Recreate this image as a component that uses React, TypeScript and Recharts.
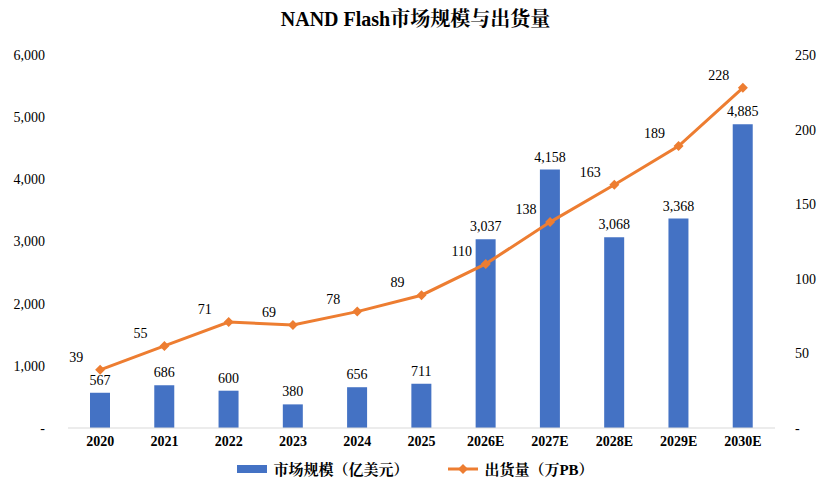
import { ComposedChart, Bar, Line, XAxis, YAxis, Legend, LabelList } from "recharts"

const years = ["2020", "2021", "2022", "2023", "2024", "2025", "2026E", "2027E", "2028E", "2029E", "2030E"]
const marketSize = [567, 686, 600, 380, 656, 711, 3037, 4158, 3068, 3368, 4885]
const shipments = [39, 55, 71, 69, 78, 89, 110, 138, 163, 189, 228]
const leftTicks = [0, 1000, 2000, 3000, 4000, 5000, 6000]
const rightTicks = [0, 50, 100, 150, 200, 250]

const data = years.map((year, i) => ({ year, market: marketSize[i], ship: shipments[i] }))

const font = "'Liberation Serif', 'Times New Roman', 'Noto Serif CJK SC', 'Noto Sans CJK SC', serif"
const fmt = (v: number) => (v === 0 ? "-" : v.toLocaleString("en-US"))

const ShipLabel = (props: any) => {
  const { x, y, value } = props
  return (
    <text x={x - 24} y={y - 8} textAnchor="middle" fontSize={14} fill="#000" fontFamily={font}>
      {value}
    </text>
  )
}

const LegendBox = () => (
  <div style={{ display: "flex", justifyContent: "center", gap: 40, fontSize: 15, fontWeight: "bold", fontFamily: font, color: "#000" }}>
    <span style={{ display: "flex", alignItems: "center", gap: 6 }}>
      <span style={{ display: "inline-block", width: 30, height: 8, background: "#4472C4" }} />
      市场规模（亿美元）
    </span>
    <span style={{ display: "flex", alignItems: "center", gap: 6 }}>
      <svg width={30} height={12}>
        <line x1={0} y1={6} x2={30} y2={6} stroke="#ED7D31" strokeWidth={3} />
        <path d="M15,1L20,6L15,11L10,6Z" fill="#ED7D31" />
      </svg>
      出货量（万PB）
    </span>
  </div>
)

export default function App() {
  return (
    <div style={{ position: "absolute", left: 0, top: 0, width: 831, height: 492, background: "#fff", fontFamily: font }}>
      <div style={{ position: "absolute", top: 3, width: 831, textAlign: "center", fontWeight: "bold", fontSize: 20 }}>
        NAND Flash市场规模与出货量
      </div>
      <ComposedChart width={831} height={492} data={data} margin={{ top: 55, right: 0, left: 0, bottom: 4 }}>
        <XAxis
          dataKey="year"
          height={30}
          axisLine={{ stroke: "#d9d9d9" }}
          tickLine={false}
          tick={{ fill: "#000", fontSize: 14, fontWeight: "bold", fontFamily: font }}
        />
        <YAxis
          yAxisId="l"
          width={68}
          domain={[0, 6000]}
          ticks={leftTicks}
          tickFormatter={fmt}
          axisLine={false}
          tickLine={false}
          tick={{ fill: "#000", fontSize: 14, fontFamily: font, dx: -15 }}
        />
        <YAxis
          yAxisId="r"
          orientation="right"
          width={56}
          domain={[0, 250]}
          ticks={rightTicks}
          tickFormatter={fmt}
          axisLine={false}
          tickLine={false}
          tick={{ fill: "#000", fontSize: 14, fontFamily: font, dx: 12 }}
        />
        <Bar yAxisId="l" dataKey="market" name="市场规模（亿美元）" fill="#4472C4" barSize={20} isAnimationActive={false}>
          <LabelList dataKey="market" position="top" offset={8} formatter={(v: any) => Number(v).toLocaleString("en-US")} style={{ fill: "#000", fontSize: 14, fontFamily: font }} />
        </Bar>
        <Line
          yAxisId="r"
          dataKey="ship"
          name="出货量（万PB）"
          stroke="#ED7D31"
          strokeWidth={3}
          dot={(p: any) => (
            <path key={p.index} d={`M${p.cx},${p.cy - 5}L${p.cx + 5},${p.cy}L${p.cx},${p.cy + 5}L${p.cx - 5},${p.cy}Z`} fill="#ED7D31" />
          )}
          activeDot={false}
          isAnimationActive={false}
        >
          <LabelList dataKey="ship" content={ShipLabel} />
        </Line>
        <Legend verticalAlign="bottom" height={30} content={LegendBox} />
      </ComposedChart>
    </div>
  )
}
